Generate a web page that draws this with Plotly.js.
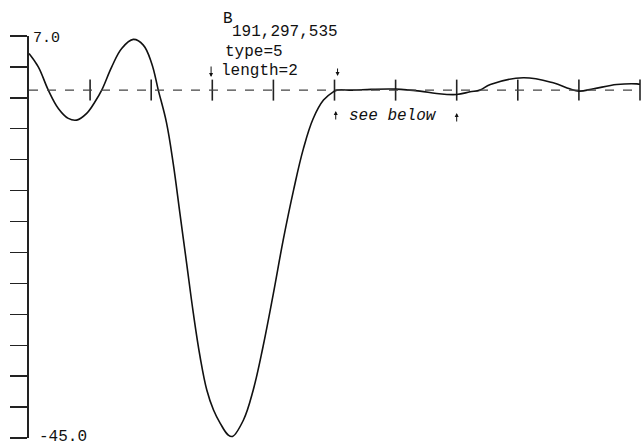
<!DOCTYPE html>
<html>
<head>
<meta charset="utf-8">
<script src="https://cdn.plot.ly/plotly-3.0.1.min.js"></script>
<style>html,body{margin:0;padding:0;background:#fff;}#chart{width:641px;height:448px;}</style>
</head>
<body>
<div id="chart"></div>
<script>
// Curve samples (x in knot units, y in function units)
var curveX = [0, 0.152, 0.316, 0.48, 0.643, 0.781, 0.944, 1.08, 1.19, 1.354, 1.517, 1.707, 1.871, 2.008, 2.116, 2.25, 2.36, 2.47, 2.58, 2.69, 2.80, 2.91, 3.02, 3.13, 3.26, 3.33, 3.51, 3.67, 3.83, 4.00, 4.16, 4.33, 4.49, 4.65, 4.82, 4.98, 5.04, 5.3, 5.6, 6.0, 6.4, 6.67, 7.0, 7.22, 7.38, 7.55, 8.09, 8.58, 8.85, 9.0, 9.24, 9.62, 9.95, 10];
var curveY = [4.75, 3.01, 0, -2.37, -3.66, -3.88, -3.01, -1.51, 0, 3.01, 5.39, 6.56, 5.82, 3.45, 0, -4.2, -9.48, -15.94, -22.41, -28.88, -34.49, -38.79, -41.38, -43.10, -44.61, -44.8, -42.67, -38.79, -33.20, -26.29, -19.40, -12.93, -7.6, -3.7, -1.29, -0.22, 0, 0.0, 0.1, 0.13, -0.13, -0.44, -0.57, -0.22, 0, 0.72, 1.59, 0.94, 0.17, -0.13, 0.17, 0.72, 0.81, 0.75];
// Knot tick marks on the zero line
var knotX = [1, 2, 3, 4, 5, 6, 7, 8, 9, 10];
var knotY = [0, 0, 0, 0, 0, 0, 0, 0, 0, 0];
// Y axis ticks and end labels
var yTickVals = [7, 3, -1, -5, -9, -13, -17, -21, -25, -29, -33, -37, -41, -45];
var yTopLabel = '7.0';
var yBottomLabel = '-45.0';
var yRange = [-45, 7];
var xRange = [0, 10];

var mono = 'Liberation Mono, DejaVu Sans Mono, monospace';
var ink = '#111';

var traces = [
  {
    x: knotX, y: knotY, mode: 'markers', type: 'scatter',
    marker: {symbol: 'line-ns-open', size: 15, color: '#222', line: {color: '#222', width: 1.6}},
    hoverinfo: 'skip', showlegend: false, cliponaxis: false
  },
  {
    x: curveX, y: curveY, mode: 'lines', type: 'scatter',
    line: {color: ink, width: 1.6, shape: 'spline', smoothing: 1.1},
    showlegend: false, cliponaxis: false
  }
];

function ann(x, yp, text, size, anchor) {
  return {x: x, y: yp, xref: 'x', yref: 'paper', text: text, showarrow: false,
    xanchor: anchor || 'left', yanchor: 'middle',
    font: {family: mono, size: size, color: ink}};
}
// small pointer arrows: head at (x, yp), tail offset ay pixels
function arrow(x, yp, ay) {
  return {x: x, y: yp, xref: 'x', yref: 'paper', text: '', showarrow: true,
    ax: 0, ay: ay, arrowhead: 2, arrowsize: 0.8, arrowwidth: 1, arrowcolor: ink,
    standoff: 0, startstandoff: 0};
}
function py(p) { return (438 - p) / 402; }

var layout = {
  width: 641, height: 448,
  margin: {l: 29, r: 1, t: 36, b: 10, pad: 0},
  paper_bgcolor: '#fff', plot_bgcolor: '#fff',
  showlegend: false,
  xaxis: {range: xRange, visible: false, fixedrange: true},
  yaxis: {
    range: yRange, showgrid: false, zeroline: false,
    showline: true, linecolor: '#222', linewidth: 1.6,
    ticks: 'outside', ticklen: 17, tickwidth: 1.4, tickcolor: '#222',
    tickmode: 'array', tickvals: yTickVals, showticklabels: false,
    fixedrange: true
  },
  shapes: [
    {type: 'line', xref: 'x', yref: 'y', x0: 0, x1: 10, y0: 0, y1: 0,
     line: {color: '#444', width: 1.3, dash: 'dash'}}
  ],
  annotations: [
    ann(0.033, 0.993, yTopLabel, 15),
    ann(0.13, 0.0025, yBottomLabel, 16),
    ann(3.14, 1.042, 'B', 16),
    ann(3.29, 1.010, '191,297,535', 16),
    ann(3.175, 0.960, 'type=5', 16),
    ann(3.11, 0.913, 'length=2', 16),
    arrow(2.98, py(77), -12),
    arrow(5.05, py(76), -9),
    arrow(5.02, py(111), 10),
    ann(5.205, 0.801, '<i>see below</i>', 16),
    arrow(7.0, py(113), 10)
  ]
};

Plotly.newPlot('chart', traces, layout, {displayModeBar: false, staticPlot: true});
</script>
</body>
</html>
